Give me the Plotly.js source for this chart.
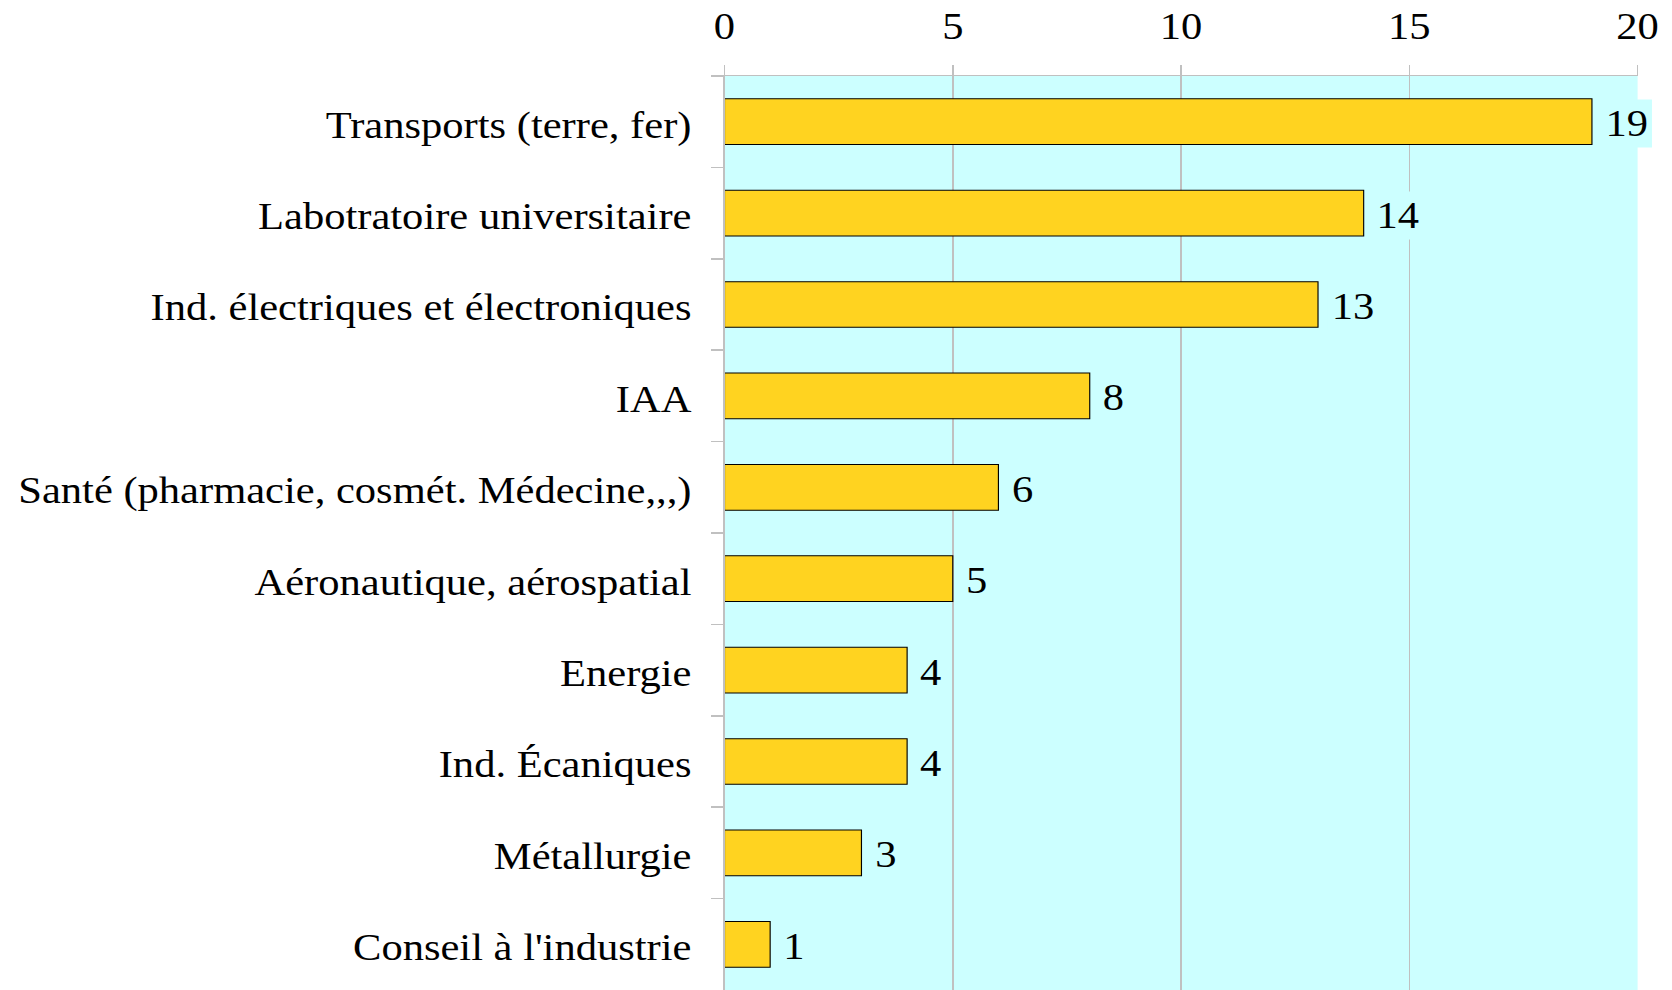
<!DOCTYPE html>
<html>
<head>
<meta charset="utf-8">
<script src="https://cdn.plot.ly/plotly-3.0.1.min.js"></script>
<style>
html,body{margin:0;padding:0;background:#fff;overflow:hidden;width:1672px;height:990px;}
#wrap{width:1672px;height:990px;overflow:hidden;}
#chart{width:1454px;height:990px;transform:scaleX(1.15);transform-origin:0 0;}
</style>
</head>
<body>
<div id="wrap"><div id="chart"></div></div>
<script>
const categories = ["Transports (terre, fer)", "Labotratoire universitaire", "Ind. électriques et électroniques", "IAA", "Santé (pharmacie, cosmét. Médecine,,,)", "Aéronautique, aérospatial", "Energie", "Ind. Écaniques", "Métallurgie", "Conseil à l'industrie"];
const values = [19, 14, 13, 8, 6, 5, 4, 4, 3, 1];
const xTicks = [0, 5, 10, 15, 20];

const FONT = "Liberation Serif, Times New Roman, serif";
const FS = 37;

const trace = {
  type: 'bar',
  orientation: 'h',
  x: values,
  y: categories,
  width: 0.5,
  marker: {color: '#ffd320', line: {color: '#000000', width: 1}},
  hoverinfo: 'none'
};

const annotations = values.map((v, i) => ({
  x: v, y: categories[i], xref: 'x', yref: 'y',
  text: String(v), showarrow: false, xanchor: 'left', yanchor: 'middle',
  xshift: 7.5, yshift: -2, bgcolor: '#ccffff', borderpad: 3,
  font: {family: FONT, size: FS, color: '#000'}
}));

const layout = {
  width: 1454, height: 990,
  margin: {l: 630.4, r: 30.4, t: 76, b: 0, pad: 0},
  paper_bgcolor: '#ffffff',
  plot_bgcolor: '#ccffff',
  font: {family: FONT, size: FS, color: '#000'},
  showlegend: false,
  xaxis: {
    side: 'top', range: [0, 20], tickvals: xTicks, ticktext: xTicks.map(String),
    ticks: 'outside', ticklen: 10, tickcolor: '#c0c0c0', tickwidth: 1.3,
    showgrid: true, gridcolor: '#c0c0c0', gridwidth: 1.3,
    showline: true, linecolor: '#c0c0c0', linewidth: 1.5,
    zeroline: false, fixedrange: true, automargin: false,
    ticklabelstandoff: 11,
    tickfont: {family: FONT, size: FS, color: '#000'}
  },
  yaxis: {
    type: 'category', autorange: 'reversed',
    tickson: 'boundaries', ticks: 'outside', ticklen: 10.4, tickcolor: '#c0c0c0', tickwidth: 1.5,
    showgrid: false, showline: true, linecolor: '#c0c0c0', linewidth: 1.3,
    zeroline: false, fixedrange: true, automargin: false,
    ticklabelstandoff: 20, ticklabelshift: -3,
    tickfont: {family: FONT, size: FS, color: '#000'}
  },
  annotations: annotations
};

Plotly.newPlot('chart', [trace], layout, {displayModeBar: false, staticPlot: true});
</script>
</body>
</html>
